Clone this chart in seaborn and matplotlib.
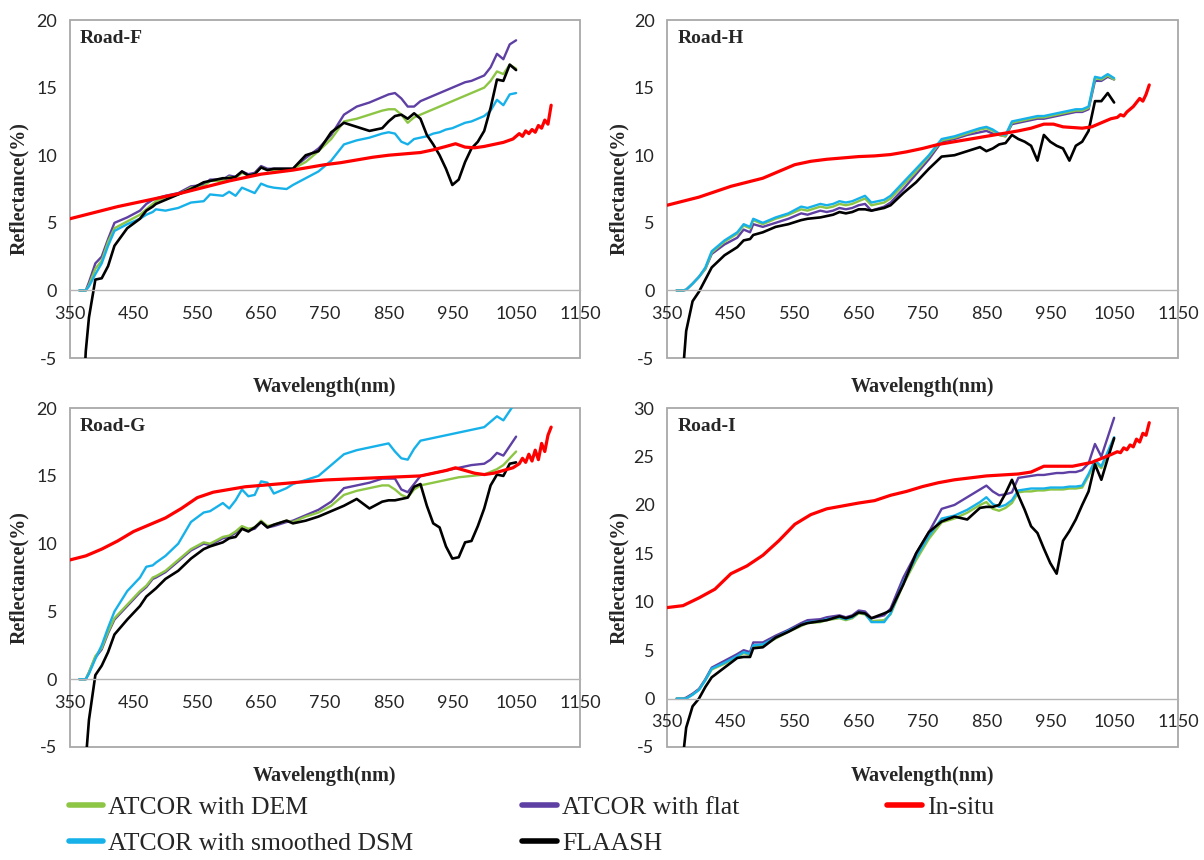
import matplotlib
matplotlib.use("Agg")
import matplotlib.pyplot as plt
from matplotlib.lines import Line2D
from matplotlib.patches import Rectangle
import seaborn as sns

# wavelength grid (nm) for the satellite-derived spectra
WL = [365, 375, 380, 390, 400, 410, 420, 440, 460, 470,
      480, 485, 500, 520, 540, 560, 570, 590, 600, 610,
      620, 630, 640, 650, 660, 670, 690, 700, 720, 740,
      760, 780, 800, 820, 840, 850, 860, 870, 880, 890,
      900, 910, 920, 930, 940, 950, 960, 970, 980, 990,
      1000, 1010, 1020, 1030, 1040, 1050]

# wavelength grid (nm) for the in-situ spectra
WL_INSITU = [350, 375, 400, 425, 450, 475, 500, 525, 550, 575,
             600, 625, 650, 675, 700, 725, 750, 775, 800, 825,
             850, 875, 900, 920, 940, 955, 970, 985, 1000, 1015,
             1030, 1045, 1055, 1060, 1065, 1070, 1075, 1080, 1085, 1090,
             1095, 1100, 1105]

# ---- Road-F ----
DEM_F = [0, 0, 0.4, 1.6, 2.2, 3.6, 4.6, 5.1, 5.6, 6.0,
         6.4, 6.6, 6.9, 7.1, 7.6, 7.7, 8.1, 8.1, 8.4, 8.3,
         8.7, 8.5, 8.6, 9.1, 8.9, 8.9, 8.9, 9.0, 9.5, 10.3,
         11.2, 12.5, 12.7, 13.0, 13.3, 13.4, 13.4, 13.0, 12.4, 12.8,
         13.0, 13.2, 13.4, 13.6, 13.8, 14.0, 14.2, 14.4, 14.6, 14.8,
         15.0, 15.5, 16.2, 16.0, 16.7, 16.4]
FLAT_F = [0, 0, 0.6, 2.0, 2.5, 3.8, 5.0, 5.4, 5.9, 6.4,
          6.7, 6.8, 7.0, 7.2, 7.7, 7.8, 8.2, 8.2, 8.5, 8.4,
          8.8, 8.6, 8.7, 9.2, 9.0, 9.0, 9.0, 9.0, 9.8, 10.5,
          11.5, 13.0, 13.6, 13.9, 14.3, 14.5, 14.6, 14.2, 13.6, 13.6,
          14.0, 14.2, 14.4, 14.6, 14.8, 15.0, 15.2, 15.4, 15.5, 15.7,
          15.9, 16.5, 17.5, 17.1, 18.2, 18.5]
DSM_F = [0, 0, 0.3, 1.2, 2.0, 3.3, 4.4, 4.9, 5.3, 5.6,
         5.8, 6.0, 5.9, 6.1, 6.5, 6.6, 7.1, 7.0, 7.3, 7.0,
         7.6, 7.4, 7.2, 7.9, 7.7, 7.6, 7.5, 7.8, 8.3, 8.8,
         9.6, 10.8, 11.1, 11.3, 11.6, 11.7, 11.6, 11.0, 10.8, 11.2,
         11.3, 11.4, 11.6, 11.7, 11.9, 12.0, 12.2, 12.4, 12.5, 12.7,
         12.9, 13.3, 14.1, 13.7, 14.5, 14.6]
FLAASH_F = [-14, -4.5, -2.0, 0.8, 0.9, 1.8, 3.3, 4.6, 5.3, 5.9,
            6.2, 6.4, 6.7, 7.1, 7.5, 8.0, 8.1, 8.3, 8.3, 8.4,
            8.8, 8.5, 8.6, 9.1, 8.9, 9.0, 9.0, 9.0, 10.0, 10.3,
            11.7, 12.4, 12.1, 11.8, 12.0, 12.5, 12.9, 13.0, 12.7, 13.1,
            12.7, 11.5, 10.8, 10.0, 9.0, 7.8, 8.2, 9.5, 10.5, 11.0,
            11.8, 13.5, 15.6, 15.5, 16.7, 16.3]
INSITU_F = [5.3, 5.6, 5.9, 6.2, 6.45, 6.7, 6.95, 7.2, 7.5, 7.8,
            8.1, 8.35, 8.6, 8.75, 8.9, 9.1, 9.3, 9.45, 9.65, 9.85,
            10.0, 10.1, 10.2, 10.4, 10.65, 10.85, 10.6, 10.55, 10.65, 10.8,
            10.95, 11.2, 11.6, 11.4, 11.8, 11.6, 11.9, 11.7, 12.2, 12.0,
            12.6, 12.3, 13.7]

# ---- Road-H ----
DEM_H = [0, 0, 0.05, 0.5, 1.0, 1.6, 2.8, 3.6, 4.2, 4.8,
         4.6, 5.2, 4.9, 5.3, 5.6, 6.0, 5.9, 6.2, 6.1, 6.2,
         6.4, 6.3, 6.4, 6.6, 6.8, 6.3, 6.5, 6.8, 7.8, 8.8,
         9.9, 11.1, 11.3, 11.6, 11.9, 12.0, 11.8, 11.5, 11.4, 12.4,
         12.5, 12.6, 12.7, 12.8, 12.8, 12.9, 13.0, 13.1, 13.2, 13.3,
         13.3, 13.5, 15.7, 15.6, 15.9, 15.6]
FLAT_H = [0, 0, 0.05, 0.5, 1.0, 1.6, 2.7, 3.4, 3.9, 4.5,
          4.3, 4.9, 4.7, 5.0, 5.3, 5.7, 5.6, 5.9, 5.8, 5.9,
          6.1, 6.0, 6.1, 6.3, 6.4, 5.9, 6.2, 6.5, 7.5, 8.6,
          9.7, 11.0, 11.2, 11.5, 11.7, 11.8, 11.6, 11.5, 11.4, 12.3,
          12.4, 12.5, 12.6, 12.7, 12.7, 12.8, 12.9, 13.0, 13.1, 13.2,
          13.2, 13.4, 15.5, 15.5, 15.8, 15.6]
DSM_H = [0, 0, 0.05, 0.5, 1.0, 1.7, 2.9, 3.7, 4.3, 4.9,
         4.7, 5.3, 5.0, 5.4, 5.7, 6.2, 6.1, 6.4, 6.3, 6.4,
         6.6, 6.5, 6.6, 6.8, 7.0, 6.5, 6.7, 7.0, 8.0, 9.0,
         10.0, 11.2, 11.4, 11.7, 12.0, 12.1, 11.9, 11.6, 11.5, 12.5,
         12.6, 12.7, 12.8, 12.9, 12.9, 13.0, 13.1, 13.2, 13.3, 13.4,
         13.4, 13.6, 15.8, 15.7, 16.0, 15.7]
FLAASH_H = [-12, -6.0, -3.0, -0.8, -0.1, 0.8, 1.7, 2.6, 3.2, 3.7,
            3.8, 4.1, 4.3, 4.7, 4.9, 5.2, 5.3, 5.4, 5.5, 5.6,
            5.8, 5.7, 5.8, 6.0, 6.0, 5.9, 6.1, 6.3, 7.2, 8.0,
            9.0, 9.9, 10.0, 10.3, 10.6, 10.3, 10.5, 10.8, 10.9, 11.5,
            11.2, 11.0, 10.7, 9.6, 11.5, 11.0, 10.7, 10.5, 9.6, 10.7,
            11.0, 11.8, 14.0, 14.0, 14.6, 13.9]
INSITU_H = [6.3, 6.6, 6.9, 7.3, 7.7, 8.0, 8.3, 8.8, 9.3, 9.55,
            9.7, 9.8, 9.9, 9.95, 10.05, 10.25, 10.5, 10.8, 11.0, 11.2,
            11.4, 11.6, 11.8, 12.0, 12.3, 12.3, 12.1, 12.05, 12.0, 12.1,
            12.4, 12.7, 12.8, 13.0, 12.9, 13.2, 13.4, 13.6, 13.9, 14.2,
            14.0, 14.5, 15.2]

# ---- Road-G ----
DEM_G = [0, 0, 0.5, 1.7, 2.3, 3.5, 4.5, 5.5, 6.5, 6.9,
         7.5, 7.6, 8.0, 8.8, 9.6, 10.1, 10.0, 10.5, 10.6, 10.9,
         11.3, 11.1, 11.2, 11.7, 11.3, 11.4, 11.7, 11.6, 12.0, 12.3,
         12.8, 13.6, 13.9, 14.1, 14.3, 14.3, 14.0, 13.6, 13.4, 14.0,
         14.3, 14.4, 14.5, 14.6, 14.7, 14.8, 14.9, 14.95, 15.0, 15.05,
         15.1, 15.3, 15.5, 15.8, 16.3, 16.8]
FLAT_G = [0, 0, 0.5, 1.6, 2.2, 3.4, 4.4, 5.4, 6.4, 6.8,
          7.4, 7.5, 7.9, 8.7, 9.5, 10.0, 9.9, 10.4, 10.5, 10.8,
          11.2, 11.0, 11.1, 11.6, 11.2, 11.3, 11.6, 11.7, 12.1, 12.5,
          13.1, 14.1, 14.3, 14.5, 14.8, 14.8, 14.8, 14.0, 13.8, 14.4,
          15.0, 15.1, 15.2, 15.3, 15.4, 15.5, 15.6, 15.7, 15.8, 15.85,
          15.9, 16.2, 16.7, 16.5, 17.2, 17.9]
DSM_G = [0, 0, 0.4, 1.5, 2.5, 3.8, 5.0, 6.5, 7.5, 8.3,
         8.4, 8.6, 9.1, 10.0, 11.6, 12.3, 12.4, 13.0, 12.6, 13.2,
         14.0, 13.5, 13.6, 14.6, 14.5, 13.7, 14.1, 14.4, 14.7, 15.0,
         15.8, 16.6, 16.9, 17.1, 17.3, 17.4, 16.8, 16.3, 16.2, 17.0,
         17.6, 17.7, 17.8, 17.9, 18.0, 18.1, 18.2, 18.3, 18.4, 18.5,
         18.6, 19.0, 19.4, 19.1, 19.8, 20.5]
FLAASH_G = [-12, -6.0, -3.0, 0.3, 1.0, 2.0, 3.3, 4.4, 5.4, 6.1,
            6.5, 6.7, 7.4, 8.0, 8.9, 9.6, 9.8, 10.1, 10.4, 10.5,
            11.1, 10.9, 11.2, 11.6, 11.2, 11.4, 11.7, 11.5, 11.7, 12.0,
            12.4, 12.8, 13.3, 12.6, 13.1, 13.2, 13.2, 13.3, 13.4, 14.2,
            14.4, 12.8, 11.5, 11.2, 9.8, 8.9, 9.0, 10.1, 10.2, 11.3,
            12.6, 14.3, 15.1, 15.0, 15.9, 16.0]
INSITU_G = [8.8, 9.1, 9.6, 10.2, 10.9, 11.4, 11.9, 12.6, 13.4, 13.8,
            14.0, 14.2, 14.3, 14.4, 14.5, 14.6, 14.7, 14.75, 14.8, 14.85,
            14.9, 14.95, 15.0, 15.2, 15.4, 15.6, 15.4, 15.2, 15.1, 15.2,
            15.4, 15.6, 15.9, 16.3, 16.0, 16.6, 16.1, 16.9, 16.2, 17.4,
            16.8, 18.0, 18.6]

# ---- Road-I ----
DEM_I = [0, 0, 0.0, 0.4, 0.9, 1.9, 3.0, 3.6, 4.3, 4.7,
         4.5, 5.4, 5.5, 6.2, 6.9, 7.5, 7.8, 7.9, 8.1, 8.2,
         8.3, 8.1, 8.3, 8.8, 8.7, 8.0, 8.1, 8.7, 11.8, 14.3,
         16.5, 18.2, 18.6, 19.2, 20.0, 20.3, 19.6, 19.4, 19.7, 20.2,
         21.3, 21.4, 21.4, 21.5, 21.5, 21.6, 21.6, 21.6, 21.7, 21.7,
         21.8, 23.0, 24.4, 23.8, 25.3, 26.8]
FLAT_I = [0, 0, 0.1, 0.5, 1.0, 2.0, 3.2, 3.9, 4.6, 5.0,
          4.8, 5.8, 5.8, 6.5, 7.1, 7.8, 8.1, 8.2, 8.4, 8.5,
          8.6, 8.4, 8.6, 9.1, 9.0, 8.3, 8.6, 9.3, 12.5, 15.0,
          17.2, 19.6, 20.0, 20.8, 21.6, 22.0, 21.4, 21.0, 21.1, 21.3,
          22.8, 22.9, 23.0, 23.1, 23.1, 23.2, 23.3, 23.3, 23.4, 23.4,
          23.6, 24.3, 26.3, 25.0, 27.0, 29.0]
DSM_I = [0, 0, 0.0, 0.4, 0.9, 1.9, 3.1, 3.7, 4.4, 4.8,
         4.6, 5.5, 5.6, 6.3, 7.0, 7.6, 7.9, 8.0, 8.2, 8.3,
         8.4, 8.2, 8.4, 8.9, 8.8, 7.9, 7.9, 8.8, 12.0, 14.6,
         16.8, 18.6, 18.9, 19.5, 20.3, 20.8, 20.1, 19.8, 20.0, 20.5,
         21.5, 21.6, 21.7, 21.7, 21.7, 21.8, 21.8, 21.8, 21.9, 21.9,
         22.0, 23.2, 24.6, 24.0, 25.5, 27.0]
FLAASH_I = [-14, -6.0, -3.0, -0.8, 0.0, 1.2, 2.2, 3.2, 4.2, 4.3,
            4.3, 5.2, 5.3, 6.3, 6.9, 7.6, 7.8, 8.0, 8.1, 8.3,
            8.5, 8.3, 8.5, 8.9, 8.8, 8.3, 8.8, 9.1, 11.8, 15.0,
            17.2, 18.3, 18.8, 18.5, 19.7, 19.8, 19.8, 20.0, 21.2, 22.6,
            21.0, 19.5, 17.8, 17.1, 15.5, 14.0, 12.9, 16.3, 17.3, 18.5,
            20.0, 21.4, 24.2, 22.6, 24.8, 26.9]
INSITU_I = [9.4, 9.6, 10.4, 11.3, 12.9, 13.7, 14.8, 16.3, 18.0, 19.0,
            19.6, 19.9, 20.2, 20.45, 21.0, 21.4, 21.9, 22.3, 22.6, 22.8,
            23.0, 23.1, 23.2, 23.4, 24.0, 24.0, 24.0, 24.0, 24.2, 24.4,
            24.8, 25.2, 25.5, 25.4, 25.9, 25.7, 26.2, 26.0, 26.8, 26.5,
            27.4, 27.2, 28.5]

GREEN = "#8DC545"
PURPLE = "#5E3FA3"
CYAN = "#17B1EA"
RED = "#FF0000"
BLACK = "#000000"

SERIF = "Liberation Serif"

sns.set_style("white")
plt.rcParams["font.family"] = ["Lato", "DejaVu Sans"]
plt.rcParams["axes.unicode_minus"] = False


def draw_panel(ax, name, ylim, dem, flat, dsm, flaash, insitu, ylab_x):
    sns.lineplot(x=WL, y=flat, ax=ax, color=PURPLE, lw=1.7, estimator=None)
    sns.lineplot(x=WL, y=dem, ax=ax, color=GREEN, lw=1.7, estimator=None)
    sns.lineplot(x=WL, y=dsm, ax=ax, color=CYAN, lw=1.7, estimator=None)
    sns.lineplot(x=WL, y=flaash, ax=ax, color=BLACK, lw=1.9, estimator=None)
    sns.lineplot(x=WL_INSITU, y=insitu, ax=ax, color=RED, lw=2.3, estimator=None)

    ax.set_xlim(350, 1150)
    ax.set_ylim(*ylim)
    ax.set_xticks(range(350, 1151, 100))
    ax.set_yticks(range(ylim[0], ylim[1] + 1, 5))

    for s in ("top", "left", "right"):
        ax.spines[s].set_visible(False)
    ax.spines["bottom"].set_position(("data", 0))
    ax.spines["bottom"].set_color("#b4b4b4")
    ax.spines["bottom"].set_linewidth(1.0)
    ax.add_patch(Rectangle((0, 0), 1, 1, transform=ax.transAxes, fill=False,
                           ec="#a8a8a8", lw=1.3, clip_on=False, zorder=0))

    ax.tick_params(length=0, labelsize=13, colors="#262626")
    ax.tick_params(axis="x", pad=11)
    ax.tick_params(axis="y", pad=9)

    ax.set_xlabel("Wavelength(nm)", fontfamily=SERIF, fontweight="bold", fontsize=14.5)
    ax.xaxis.set_label_coords(0.5, -0.055)
    ax.set_ylabel("Reflectance(%)", fontfamily=SERIF, fontweight="bold", fontsize=14.5)
    ax.yaxis.set_label_coords(ylab_x, 0.5)

    ax.text(0.02, 0.945, name, transform=ax.transAxes, fontfamily=SERIF,
            fontweight="bold", fontsize=14, va="center", ha="left")


fig = plt.figure(figsize=(12.04, 8.6), dpi=100)

ax_f = fig.add_axes([0.058, 0.5837, 0.4236, 0.393])
ax_h = fig.add_axes([0.554, 0.5837, 0.4244, 0.393])
ax_g = fig.add_axes([0.058, 0.1314, 0.4236, 0.394])
ax_i = fig.add_axes([0.554, 0.1314, 0.4244, 0.394])

draw_panel(ax_f, "Road-F", (-5, 20), DEM_F, FLAT_F, DSM_F, FLAASH_F, INSITU_F, -0.08)
draw_panel(ax_h, "Road-H", (-5, 20), DEM_H, FLAT_H, DSM_H, FLAASH_H, INSITU_H, -0.074)
draw_panel(ax_g, "Road-G", (-5, 20), DEM_G, FLAT_G, DSM_G, FLAASH_G, INSITU_G, -0.08)
draw_panel(ax_i, "Road-I", (-5, 30), DEM_I, FLAT_I, DSM_I, FLAASH_I, INSITU_I, -0.074)

# legend split in three columns, placed like the original layout
legend_cols = [
    (0.057, [("ATCOR with DEM", GREEN), ("ATCOR with smoothed DSM", CYAN)]),
    (0.4336, [("ATCOR with flat", PURPLE), ("FLAASH", BLACK)]),
    (0.7367, [("In-situ", RED)]),
]
for x, entries in legend_cols:
    handles = [Line2D([0], [0], color=c, lw=4) for _, c in entries]
    labels = [t for t, _ in entries]
    fig.legend(handles, labels, loc="upper left", bbox_to_anchor=(x, 0.0745),
               frameon=False, prop={"family": SERIF, "size": 18.5},
               handlelength=1.35, handletextpad=0.2, labelspacing=0.5,
               borderpad=0, borderaxespad=0)

fig.savefig("out.png", dpi=100, facecolor="white")
